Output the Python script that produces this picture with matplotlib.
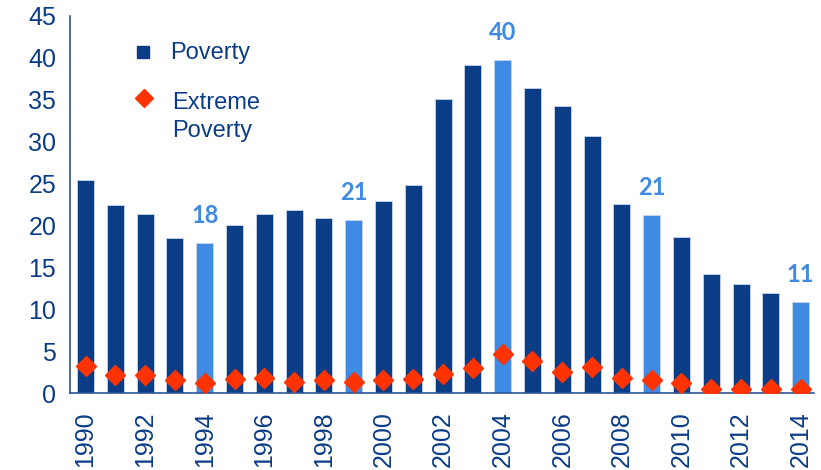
import numpy as np
import matplotlib.pyplot as plt

years = list(range(1990, 2015))
poverty = [25.4, 22.4, 21.4, 18.5, 17.9, 20.1, 21.4, 21.9, 20.9, 20.6,
           22.9, 24.8, 35.1, 39.2, 39.8, 36.4, 34.2, 30.7, 22.6, 21.3,
           18.6, 14.2, 13.0, 11.9, 10.9]
extreme = [3.2, 2.2, 2.2, 1.5, 1.2, 1.7, 1.75, 1.3, 1.6, 1.3,
           1.6, 1.7, 2.3, 3.0, 4.6, 3.85, 2.5, 3.1, 1.8, 1.5,
           1.15, 0.45, 0.5, 0.45, 0.5]
# years whose bar gets the lighter colour and a value label
marked = [1994, 1999, 2004, 2009, 2014]

dark = '#0B3D87'
light = '#3F8AE3'
red = '#FF3300'

plt.rcParams['font.family'] = ['Liberation Sans', 'DejaVu Sans']

fig = plt.figure(figsize=(8.21, 4.70), dpi=100)
ax = fig.add_axes([0.0853, 0.1638, 0.9062, 0.8022])

x = np.arange(len(years))
colors = [light if y in marked else dark for y in years]
ax.bar(x, poverty, width=0.57, color=colors, edgecolor='#C8D6EA', linewidth=0.6, zorder=2)
ax.plot(x, extreme, linestyle='none', marker='D', markersize=10, color=red, zorder=3)

for i, y in enumerate(years):
    if y in marked:
        ax.text(x[i], poverty[i] + 1.9, f'{poverty[i]:.0f}', ha='center', va='bottom',
                color=light, fontsize=17, fontweight='bold', family='Lato')

ax.set_xlim(-0.52, 24.45)
ax.set_ylim(0, 45)
ax.set_yticks(range(0, 46, 5))
ax.set_xticks(x[::2])
ax.set_xticklabels([str(y) for y in years[::2]], rotation=90)
ax.tick_params(axis='both', length=0, colors=dark, labelsize=18)
ax.tick_params(axis='x', pad=13)
ax.tick_params(axis='y', pad=10)
for s in ['top', 'right']:
    ax.spines[s].set_visible(False)
for s in ['left', 'bottom']:
    ax.spines[s].set_color('#2E5597')
    ax.spines[s].set_linewidth(1.2)

# legend drawn by hand so the diamond sits level with the first text line
tr = ax.transAxes
ax.plot([0.098], [0.905], marker='s', markersize=9, color=dark, transform=tr, clip_on=False)
ax.text(0.134, 0.902, 'Poverty', color=dark, fontsize=17, va='center', transform=tr)
ax.plot([0.0995], [0.783], marker='D', markersize=9, color=red, transform=tr, clip_on=False)
ax.text(0.137, 0.770, 'Extreme', color=dark, fontsize=17, va='center', transform=tr)
ax.text(0.137, 0.696, 'Poverty', color=dark, fontsize=17, va='center', transform=tr)

fig.savefig('out.png', dpi=100)
